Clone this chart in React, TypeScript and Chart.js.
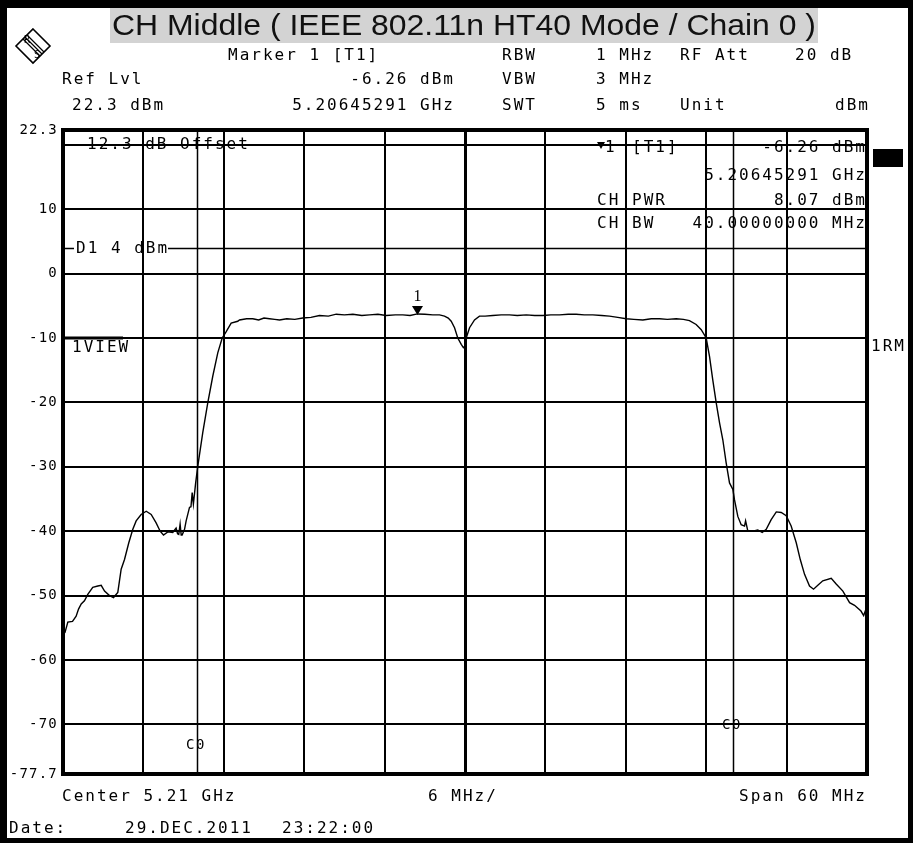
import { useEffect, useRef } from "react";
import { Chart, registerables } from "chart.js";

Chart.register(...registerables);

// ---- data ----
const CENTER_MHZ = 5210;
const SPAN_MHZ = 60;
const DIV_MHZ = 6;

const freqOffsetMHz = [
  -30.0, -29.85, -29.64, -29.29, -29.02, -28.84, -28.64, -28.4, -28.15, -27.78,
  -27.4, -27.15, -26.9, -26.53, -26.23, -25.91, -25.66, -25.41, -25.09, -24.79,
  -24.54, -24.17, -23.79, -23.42, -23.05, -22.75, -22.5, -22.18, -21.81, -21.56,
  -21.45, -21.36, -21.26, -21.18, -21.11, -20.93, -20.81, -20.56, -20.45, -20.36,
  -20.27, -20.1, -19.94, -19.57, -19.2, -18.82, -18.45, -18.12, -17.82, -17.45,
  -16.96, -16.83, -16.3, -15.84, -15.4, -15.0, -14.59, -14.2, -13.84, -13.3,
  -12.7, -12.11, -11.5, -10.86, -10.2, -9.61, -9.0, -8.37, -7.7, -7.13,
  -6.5, -5.88, -5.2, -4.64, -4.1, -3.55, -3.0, -2.4, -1.9, -1.53,
  -1.25, -1.03, -0.78, -0.54, -0.28, -0.12, 0.02, 0.09, 0.34, 0.71,
  1.08, 1.5, 2.07, 2.7, 3.32, 3.9, 4.57, 5.2, 5.81, 6.4,
  7.05, 7.7, 8.3, 8.9, 9.54, 10.2, 10.78, 11.4, 12.03, 12.6,
  13.27, 13.9, 14.52, 15.1, 15.76, 16.3, 16.75, 17.25, 17.63, 18.0,
  18.25, 18.49, 18.75, 19.0, 19.24, 19.49, 19.74, 19.99, 20.11, 20.36,
  20.61, 20.86, 20.94, 21.11, 21.48, 21.85, 22.18, 22.48, 22.85, 23.23,
  23.6, 23.97, 24.34, 24.72, 25.02, 25.34, 25.71, 26.01, 26.33, 26.7,
  27.33, 27.7, 28.2, 28.7, 29.07, 29.55, 29.75, 29.87, 30.0,
];

const levelDbm = [
  -56.0, -55.7, -54.1, -54.0, -53.2, -52.1, -51.3, -50.8, -49.8, -48.7,
  -48.5, -48.4, -49.3, -50.0, -50.3, -49.5, -45.9, -44.4, -41.8, -39.7,
  -38.4, -37.4, -36.9, -37.4, -38.7, -40.0, -40.6, -40.1, -40.2, -39.5,
  -40.4, -40.5, -38.9, -40.6, -40.6, -39.7, -38.4, -36.3, -36.2, -34.0,
  -35.8, -32.5, -29.9, -24.7, -20.1, -15.9, -12.3, -10.0, -9.0, -7.7,
  -7.4, -7.2, -7.0, -7.0, -7.2, -6.9, -7.0, -7.1, -7.2, -7.0,
  -7.1, -6.9, -6.8, -6.5, -6.6, -6.3, -6.4, -6.3, -6.5, -6.4,
  -6.3, -6.5, -6.4, -6.4, -6.5, -6.26, -6.3, -6.4, -6.4, -6.6,
  -6.9, -7.4, -8.4, -10.0, -11.0, -11.5, -11.2, -10.0, -8.4, -7.2,
  -6.6, -6.6, -6.5, -6.4, -6.4, -6.5, -6.4, -6.5, -6.5, -6.4,
  -6.4, -6.3, -6.3, -6.4, -6.4, -6.5, -6.6, -6.8, -7.0, -7.1,
  -7.2, -7.0, -7.0, -7.1, -7.0, -7.1, -7.3, -7.9, -8.7, -10.0,
  -12.9, -16.5, -20.1, -23.2, -25.8, -29.4, -32.5, -33.5, -35.1, -37.7,
  -39.0, -39.2, -38.4, -40.0, -40.0, -39.8, -40.2, -39.7, -38.2, -37.0,
  -37.1, -37.6, -39.2, -41.8, -44.4, -46.7, -48.5, -49.0, -48.4, -47.7,
  -47.3, -48.2, -49.3, -51.1, -51.5, -52.4, -53.1, -52.4, -52.7,
];

const yTickValues = [-77.7, -70, -60, -50, -40, -30, -20, -10, 0, 10, 20, 22.3];
const yTickLabels = ["-77.7", "-70", "-60", "-50", "-40", "-30", "-20", "-10", "0", "10", "", "22.3"];

const channelEdgesMHz = [-20, 20];
const displayLineDbm = 4;
const markerFreqMHz = 5206.45291;
const markerLevelDbm = -6.26;

// ---- drawing helpers ----
const MONO = '"DejaVu Sans Mono", monospace';

function txt(
  ctx: CanvasRenderingContext2D,
  s: string,
  x: number,
  y: number,
  align: CanvasTextAlign = "left",
  size = 16,
  spacing = 2.0,
) {
  ctx.save();
  ctx.font = `${size}px ${MONO}`;
  (ctx as any).letterSpacing = `${spacing}px`;
  ctx.fillStyle = "#000";
  ctx.textAlign = align;
  ctx.textBaseline = "middle";
  ctx.fillText(s, align === "right" ? x + spacing : x, y);
  ctx.restore();
}

const decor = {
  id: "decor",
  beforeDraw(chart: any) {
    const ctx: CanvasRenderingContext2D = chart.ctx;
    const W = chart.width;
    const H = chart.height;
    ctx.save();
    ctx.fillStyle = "#fff";
    ctx.fillRect(0, 0, W, H);
    // outer frame
    ctx.fillStyle = "#000";
    ctx.fillRect(0, 0, 7, H);
    ctx.fillRect(0, 0, W, 8);
    ctx.fillRect(W - 5, 0, 5, H);
    ctx.fillRect(0, H - 5, W, 5);
    // title
    ctx.fillStyle = "#d3d3d3";
    ctx.fillRect(110, 8, 708, 35);
    ctx.fillStyle = "#111";
    ctx.font = '30px "Liberation Sans", Arial, sans-serif';
    const title = "CH Middle ( IEEE 802.11n HT40 Mode / Chain 0 )";
    const tw = ctx.measureText(title).width;
    ctx.translate(464, 35);
    ctx.scale(704 / tw, 1);
    ctx.textAlign = "center";
    ctx.textBaseline = "alphabetic";
    ctx.fillText(title, 0, 0);
    ctx.restore();

    // header rows
    txt(ctx, "Marker 1 [T1]", 228, 56);
    txt(ctx, "RBW", 502, 56);
    txt(ctx, "1 MHz", 596, 56);
    txt(ctx, "RF Att", 680, 56);
    txt(ctx, "20 dB", 795, 56);

    txt(ctx, "Ref Lvl", 62, 80);
    txt(ctx, "-6.26 dBm", 453, 80, "right");
    txt(ctx, "VBW", 502, 80);
    txt(ctx, "3 MHz", 596, 80);

    txt(ctx, "22.3 dBm", 72, 106);
    txt(ctx, "5.20645291 GHz", 453, 106, "right");
    txt(ctx, "SWT", 502, 106);
    txt(ctx, "5 ms", 596, 106);
    txt(ctx, "Unit", 680, 106);
    txt(ctx, "dBm", 868, 106, "right");

    // R&S logo (diamond)
    ctx.save();
    ctx.strokeStyle = "#000";
    ctx.lineWidth = 1.6;
    ctx.beginPath();
    ctx.moveTo(33, 29);
    ctx.lineTo(50, 46);
    ctx.lineTo(33, 63);
    ctx.lineTo(16, 46);
    ctx.closePath();
    ctx.stroke();
    ctx.lineWidth = 1.2;
    ctx.beginPath();
    ctx.moveTo(23, 39);
    ctx.lineTo(40, 56);
    ctx.moveTo(25, 37);
    ctx.lineTo(42, 54);
    ctx.moveTo(27, 35);
    ctx.lineTo(44, 52);
    ctx.stroke();
    ctx.font = `10px ${MONO}`;
    ctx.fillStyle = "#000";
    ctx.fillText("R", 24, 43);
    ctx.fillText("S", 34, 58);
    ctx.restore();

    // bottom rows
    txt(ctx, "Center 5.21 GHz", 62, 797);
    txt(ctx, "6 MHz/", 428, 797);
    txt(ctx, "Span 60 MHz", 865, 797, "right");
    txt(ctx, "Date:", 9, 829);
    txt(ctx, "29.DEC.2011", 125, 829);
    txt(ctx, "23:22:00", 282, 829);

    // right side
    ctx.save();
    ctx.fillStyle = "#000";
    ctx.fillRect(873, 149, 30, 18);
    ctx.restore();
    txt(ctx, "1RM", 871, 347);

    // spacing for the axis tick labels
    (ctx as any).letterSpacing = "1.2px";
  },
  beforeDatasetsDraw(chart: any) {
    const ctx: CanvasRenderingContext2D = chart.ctx;
    const { left, right, top, bottom } = chart.chartArea;
    const xs = chart.scales.x;
    const ys = chart.scales.y;
    ctx.save();
    (ctx as any).letterSpacing = "0px";
    ctx.strokeStyle = "#000";
    // channel edge lines
    ctx.lineWidth = 1.5;
    channelEdgesMHz.forEach((f) => {
      const px = Math.round(xs.getPixelForValue(CENTER_MHZ + f)) + 0.5;
      ctx.beginPath();
      ctx.moveTo(px, top);
      ctx.lineTo(px, bottom);
      ctx.stroke();
    });
    // display line D1
    const dy = Math.round(ys.getPixelForValue(displayLineDbm)) + 0.5;
    ctx.beginPath();
    ctx.moveTo(left, dy);
    ctx.lineTo(74, dy);
    ctx.moveTo(168, dy);
    ctx.lineTo(right, dy);
    ctx.stroke();
    // thick segment at -10 under 1VIEW
    const ty = ys.getPixelForValue(-10);
    ctx.lineWidth = 3;
    ctx.beginPath();
    ctx.moveTo(left, ty);
    ctx.lineTo(123, ty);
    ctx.stroke();
    ctx.restore();

    txt(ctx, "12.3 dB Offset", 87, ys.getPixelForValue(20));
    txt(ctx, "D1 4 dBm", 76, dy);
    txt(ctx, "1VIEW", 72, 348);

    const c0L = xs.getPixelForValue(CENTER_MHZ + channelEdgesMHz[0]);
    const c0R = xs.getPixelForValue(CENTER_MHZ + channelEdgesMHz[1]);
    txt(ctx, "C0", c0L - 1, 745, "center", 14, 1.5);
    txt(ctx, "C0", c0R - 1, 725, "center", 14, 1.5);

    // marker info block
    ctx.save();
    ctx.fillStyle = "#000";
    ctx.beginPath();
    ctx.moveTo(597, 142);
    ctx.lineTo(605, 142);
    ctx.lineTo(601, 149);
    ctx.closePath();
    ctx.fill();
    ctx.restore();
    txt(ctx, "1", 605, 148);
    txt(ctx, "[T1]", 632, 148);
    txt(ctx, "-6.26 dBm", 865, 148, "right");
    txt(ctx, "5.20645291 GHz", 865, 176, "right");
    txt(ctx, "CH", 597, 201);
    txt(ctx, "PWR", 632, 201);
    txt(ctx, "8.07 dBm", 865, 201, "right");
    txt(ctx, "CH", 597, 224);
    txt(ctx, "BW", 632, 224);
    txt(ctx, "40.00000000 MHz", 865, 224, "right");
  },
  afterDatasetsDraw(chart: any) {
    const ctx: CanvasRenderingContext2D = chart.ctx;
    const { left, right, top, bottom } = chart.chartArea;
    const xs = chart.scales.x;
    const ys = chart.scales.y;
    ctx.save();
    (ctx as any).letterSpacing = "0px";
    // marker triangle
    const mx = xs.getPixelForValue(markerFreqMHz);
    const my = ys.getPixelForValue(markerLevelDbm);
    ctx.fillStyle = "#000";
    ctx.beginPath();
    ctx.moveTo(mx - 5.5, my - 8);
    ctx.lineTo(mx + 5.5, my - 8);
    ctx.lineTo(mx, my + 1);
    ctx.closePath();
    ctx.fill();
    ctx.font = '16px "Liberation Serif", serif';
    ctx.textAlign = "center";
    ctx.textBaseline = "middle";
    ctx.fillText("1", mx, my - 17);
    // plot frame
    ctx.strokeStyle = "#000";
    ctx.lineWidth = 4;
    ctx.strokeRect(left, top, right - left, bottom - top);
    ctx.restore();
  },
};

export default function App() {
  const ref = useRef<HTMLCanvasElement | null>(null);
  useEffect(() => {
    document.body.style.margin = "0";
    const canvas = ref.current;
    if (!canvas) return;
    const points = freqOffsetMHz.map((f, i) => ({ x: CENTER_MHZ + f, y: levelDbm[i] }));
    const chart = new Chart(canvas, {
      type: "line",
      data: {
        datasets: [
          {
            data: points,
            borderColor: "#000",
            borderWidth: 1.4,
            pointRadius: 0,
            tension: 0,
            fill: false,
          },
        ],
      },
      options: {
        responsive: false,
        animation: false,
        devicePixelRatio: 1,
        layout: { padding: { left: 0, top: 130, right: 46, bottom: 69 } },
        plugins: {
          legend: { display: false },
          tooltip: { enabled: false },
          title: { display: false },
        },
        scales: {
          x: {
            type: "linear",
            min: CENTER_MHZ - SPAN_MHZ / 2,
            max: CENTER_MHZ + SPAN_MHZ / 2,
            ticks: { display: false, stepSize: DIV_MHZ },
            grid: {
              color: "#000",
              drawTicks: false,
              lineWidth: (c: any) => (c.tick && Math.abs(c.tick.value - CENTER_MHZ) < 1e-6 ? 3 : 2),
            },
            border: { display: false },
            afterFit: (s: any) => {
              s.height = 0;
            },
          },
          y: {
            type: "linear",
            min: -77.7,
            max: 22.3,
            afterBuildTicks: (s: any) => {
              s.ticks = yTickValues.map((v) => ({ value: v }));
            },
            ticks: {
              autoSkip: false,
              callback: (_v: any, i: number) => yTickLabels[i],
              font: { family: "DejaVu Sans Mono", size: 14 },
              color: "#000",
              padding: 5,
            },
            grid: { color: "#000", lineWidth: 2, drawTicks: false },
            border: { display: false },
            afterFit: (s: any) => {
              s.width = 63;
            },
          },
        },
      },
      plugins: [decor],
    } as any);
    return () => chart.destroy();
  }, []);
  return (
    <div style={{ width: 913, height: 843, position: "relative" }}>
      <canvas ref={ref} width={913} height={843} style={{ display: "block" }} />
    </div>
  );
}
